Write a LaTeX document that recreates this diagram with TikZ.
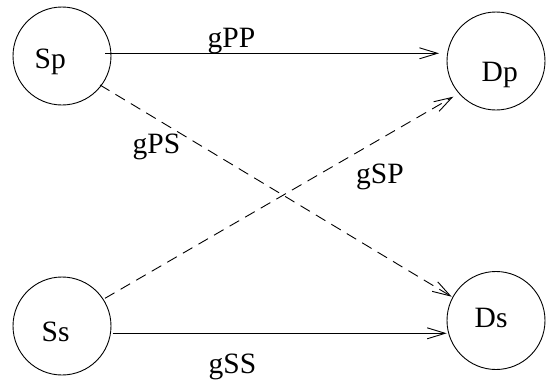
\documentclass[tikz,border=0pt]{standalone}
\usepackage{fontspec}
\setmainfont{Liberation Serif}
\usetikzlibrary{arrows.meta,calc}
\begin{document}
\begin{tikzpicture}[x=1pt,y=-1pt,
  every node/.style={font=\fontsize{29.5}{33}\selectfont},
  ring/.style={draw,circle,line width=0.9pt,minimum size=98pt,inner sep=0pt},
  lbl/.style={anchor=base west,inner sep=0pt},
  conn/.style={line width=0.9pt,-{Straight Barb[length=18pt,width=11pt,line width=0.9pt]}},
  dashconn/.style={conn,dash pattern=on 11pt off 7pt}]
\useasboundingbox (0,0) rectangle (550,381);
% circles
\node[ring] (Sp) at (62,56) {};
\node[ring] (Dp) at (496,61) {};
\node[ring] (Ss) at (62,326) {};
\node[ring] (Ds) at (496,320.5) {};
% texts in circles
\node[lbl] (SpT) at (34.5,68) {Sp};
\node[lbl] (DpT) at (481.5,81.7) {Dp};
\node[lbl] (SsT) at (41.5,341) {Ss};
\node[lbl] (DsT) at (474.5,327.3) {Ds};
% endpoints
\coordinate (a1) at ($(Sp.center)+(43,-2.7)$);
\coordinate (a2) at ($(Dp.center)+(-57,-7.7)$);
\coordinate (b1) at ($(Ss.center)+(50.7,7.3)$);
\coordinate (b2) at ($(Ds.center)+(-49.3,12.8)$);
\coordinate (c1) at ($(Sp.center)+(38,29)$);
\coordinate (c2) at ($(Ds.center)+(-44.3,-23.8)$);
\coordinate (d1) at ($(Ss.center)+(43,-27.7)$);
\coordinate (d2) at ($(Dp.center)+(-42.7,35.7)$);
% connectors
\draw[conn] (a1) -- (a2);
\draw[conn] (b1) -- (b2);
\draw[dashconn] (c1) -- (c2);
\draw[dashconn] (d1) -- (d2);
% labels
\node[lbl] (gPP) at (207.5,47.3) {gPP};
\node[lbl] (gPS) at (132.5,153.3) {gPS};
\node[lbl] (gSP) at (356,183.3) {gSP};
\node[lbl] (gSS) at (208.5,373.3) {gSS};
\end{tikzpicture}
\end{document}
